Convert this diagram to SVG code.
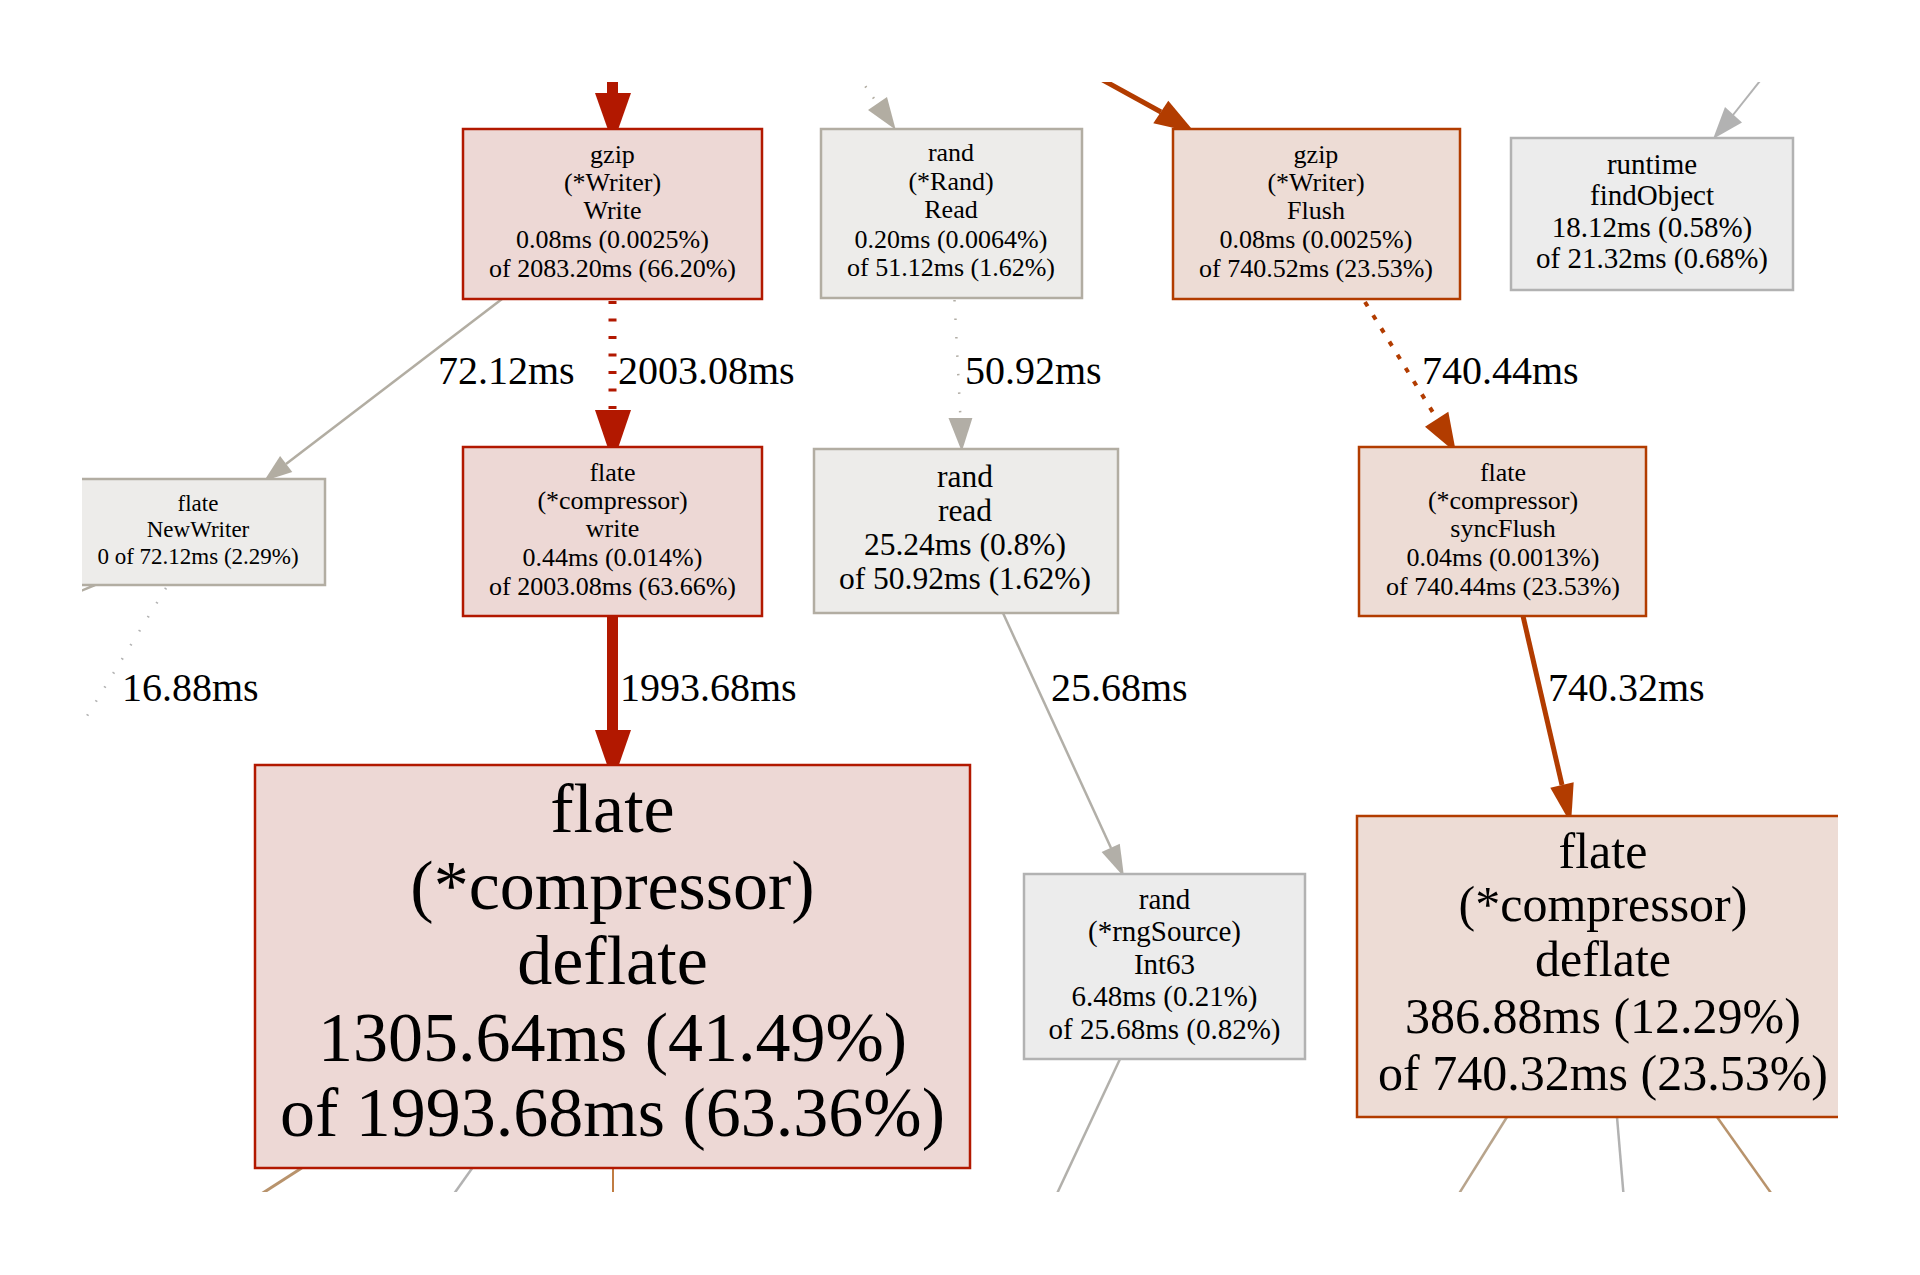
<svg xmlns="http://www.w3.org/2000/svg" width="1920" height="1275" viewBox="0 0 1920 1275">
<style>
text{font-family:"Liberation Serif","Times New Roman",serif;fill:#000;text-anchor:middle}
.lbl{font-size:40px;text-anchor:start}
.red{fill:#edd8d5;stroke:#b21800;stroke-width:2.5}
.org{fill:#eddcd5;stroke:#b23c00;stroke-width:2.5}
.tan{fill:#edecea;stroke:#b2ada2;stroke-width:2.5}
.gry{fill:#ececec;stroke:#b2b2b2;stroke-width:2.5}
.e{fill:none}
</style>
<defs>
<clipPath id="view"><rect x="82" y="82" width="1756" height="1110"/></clipPath>
</defs>
<rect width="1920" height="1275" fill="#fff"/>
<g clip-path="url(#view)">
<g id="edges">
<line class="e" x1="612.5" y1="60" x2="612.5" y2="95" stroke="#b21800" stroke-width="11"/>
<polygon points="595,93 631,93 613,144" fill="#b21800"/>
<line class="e" x1="502" y1="299" x2="286" y2="464" stroke="#b2ada2" stroke-width="2.5"/>
<polygon points="292.3,471.9 280.1,456.1 264,481" fill="#b2ada2"/>
<line class="e" x1="612.5" y1="301" x2="612.5" y2="411" stroke="#b21800" stroke-width="8" stroke-dasharray="3 14.5"/>
<polygon points="595,410 631,410 613,463" fill="#b21800"/>
<line class="e" x1="850" y1="64" x2="877" y2="103" stroke="#b2ada2" stroke-width="2.5" stroke-dasharray="1.5 12"/>
<polygon points="868,110 887,97 895.7,129.8" fill="#b2ada2"/>
<line class="e" x1="954.5" y1="300" x2="960.5" y2="419" stroke="#b2aea6" stroke-width="2.5" stroke-dasharray="1.5 17"/>
<polygon points="948.5,418 972.4,418 961.8,451.5" fill="#b2aea6"/>
<line class="e" x1="1070" y1="62" x2="1161" y2="112" stroke="#b23c00" stroke-width="5"/>
<polygon points="1153.3,123.3 1168.3,100.7 1195,132.7" fill="#b23c00"/>
<line class="e" x1="1775" y1="62" x2="1733" y2="115" stroke="#b2b2b2" stroke-width="2"/>
<polygon points="1725,107 1742,122.5 1713,139" fill="#b2b2b2"/>
<line class="e" x1="1365" y1="302" x2="1437" y2="419" stroke="#b23c00" stroke-width="4" stroke-dasharray="5 10.5"/>
<polygon points="1425,426.7 1448.3,411.7 1456,452.7" fill="#b23c00"/>
<line class="e" x1="612.5" y1="616" x2="612.5" y2="732" stroke="#b21800" stroke-width="11"/>
<polygon points="595,730 631,730 613,782" fill="#b21800"/>
<line class="e" x1="1003" y1="613" x2="1111" y2="848" stroke="#b2afa8" stroke-width="2.5"/>
<polygon points="1119.8,843.7 1101.6,852.1 1124,877" fill="#b2afa8"/>
<line class="e" x1="1523" y1="616" x2="1562" y2="785" stroke="#b23c00" stroke-width="5"/>
<polygon points="1573.7,782.3 1550.3,787.7 1571,824" fill="#b23c00"/>
<line class="e" x1="166" y1="588" x2="66" y2="750" stroke="#b2b2b2" stroke-width="2.5" stroke-dasharray="1.5 15"/>
<line class="e" x1="95" y1="585" x2="50" y2="604" stroke="#b2ada2" stroke-width="2.5"/>
<line class="e" x1="301.7" y1="1168" x2="255" y2="1198" stroke="#b8936c" stroke-width="3"/>
<line class="e" x1="472.3" y1="1168" x2="451" y2="1198" stroke="#b2b2b2" stroke-width="2.5"/>
<line class="e" x1="613" y1="1168" x2="613" y2="1198" stroke="#c07c42" stroke-width="2"/>
<line class="e" x1="1120" y1="1059" x2="1054" y2="1200" stroke="#b2b0ab" stroke-width="2.5"/>
<line class="e" x1="1507" y1="1117" x2="1455" y2="1200" stroke="#b8a48c" stroke-width="2.5"/>
<line class="e" x1="1617" y1="1117" x2="1624" y2="1200" stroke="#b2b2b2" stroke-width="2.5"/>
<line class="e" x1="1717" y1="1117" x2="1776" y2="1200" stroke="#b8936c" stroke-width="2.5"/>
<text class="lbl" x="438" y="384">72.12ms</text>
<text class="lbl" x="618" y="384">2003.08ms</text>
<text class="lbl" x="965" y="384">50.92ms</text>
<text class="lbl" x="1422" y="384">740.44ms</text>
<text class="lbl" x="122" y="701">16.88ms</text>
<text class="lbl" x="620" y="701">1993.68ms</text>
<text class="lbl" x="1051" y="701">25.68ms</text>
<text class="lbl" x="1548" y="701">740.32ms</text>
</g>
<g id="gzip_Write">
<rect class="red" x="463" y="129" width="299" height="170"/>
<g font-size="26"><text x="612.5" y="163">gzip</text><text x="612.5" y="191">(*Writer)</text><text x="612.5" y="219">Write</text><text x="612.5" y="248">0.08ms (0.0025%)</text><text x="612.5" y="277">of 2083.20ms (66.20%)</text></g>
</g>
<g id="rand_Rand_Read">
<rect class="tan" x="821" y="129" width="261" height="169"/>
<g font-size="26"><text x="951" y="161">rand</text><text x="951" y="190">(*Rand)</text><text x="951" y="218">Read</text><text x="951" y="248">0.20ms (0.0064%)</text><text x="951" y="276">of 51.12ms (1.62%)</text></g>
</g>
<g id="gzip_Flush">
<rect class="org" x="1173" y="129" width="287" height="170"/>
<g font-size="26"><text x="1316" y="163">gzip</text><text x="1316" y="191">(*Writer)</text><text x="1316" y="219">Flush</text><text x="1316" y="248">0.08ms (0.0025%)</text><text x="1316" y="277">of 740.52ms (23.53%)</text></g>
</g>
<g id="runtime_findObject">
<rect class="gry" x="1511" y="138" width="282" height="152"/>
<g font-size="29"><text x="1652" y="174">runtime</text><text x="1652" y="205">findObject</text><text x="1652" y="236.5">18.12ms (0.58%)</text><text x="1652" y="268">of 21.32ms (0.68%)</text></g>
</g>
<g id="flate_NewWriter">
<rect class="tan" x="70" y="479" width="255" height="106"/>
<g font-size="23"><text x="198" y="511">flate</text><text x="198" y="537">NewWriter</text><text x="198" y="564">0 of 72.12ms (2.29%)</text></g>
</g>
<g id="flate_compressor_write">
<rect class="red" x="463" y="447" width="299" height="169"/>
<g font-size="26"><text x="612.5" y="481">flate</text><text x="612.5" y="509">(*compressor)</text><text x="612.5" y="537">write</text><text x="612.5" y="566">0.44ms (0.014%)</text><text x="612.5" y="595">of 2003.08ms (63.66%)</text></g>
</g>
<g id="rand_read">
<rect class="tan" x="814" y="449" width="304" height="164"/>
<g font-size="31.5"><text x="965" y="487">rand</text><text x="965" y="520.5">read</text><text x="965" y="554.5">25.24ms (0.8%)</text><text x="965" y="588.5">of 50.92ms (1.62%)</text></g>
</g>
<g id="flate_compressor_syncFlush">
<rect class="org" x="1359" y="447" width="287" height="169"/>
<g font-size="26"><text x="1503" y="481">flate</text><text x="1503" y="509">(*compressor)</text><text x="1503" y="537">syncFlush</text><text x="1503" y="566">0.04ms (0.0013%)</text><text x="1503" y="595">of 740.44ms (23.53%)</text></g>
</g>
<g id="flate_compressor_deflate_1">
<rect class="red" x="255" y="765" width="715" height="403" stroke-width="3"/>
<g font-size="70"><text x="612.5" y="832">flate</text><text x="612.5" y="909">(*compressor)</text><text x="612.5" y="984">deflate</text><text x="612.5" y="1061">1305.64ms (41.49%)</text><text x="612.5" y="1136">of 1993.68ms (63.36%)</text></g>
</g>
<g id="rand_rngSource_Int63">
<rect class="gry" x="1024" y="874" width="281" height="185"/>
<g font-size="29"><text x="1164.5" y="908.5">rand</text><text x="1164.5" y="941">(*rngSource)</text><text x="1164.5" y="973.5">Int63</text><text x="1164.5" y="1006">6.48ms (0.21%)</text><text x="1164.5" y="1038.5">of 25.68ms (0.82%)</text></g>
</g>
<g id="flate_compressor_deflate_2">
<rect class="org" x="1357" y="816" width="492" height="301" stroke-width="3"/>
<g font-size="50"><text x="1603" y="868">flate</text><text x="1603" y="921">(*compressor)</text><text x="1603" y="976">deflate</text><text x="1603" y="1033">386.88ms (12.29%)</text><text x="1603" y="1090">of 740.32ms (23.53%)</text></g>
</g>
</g>
</svg>
